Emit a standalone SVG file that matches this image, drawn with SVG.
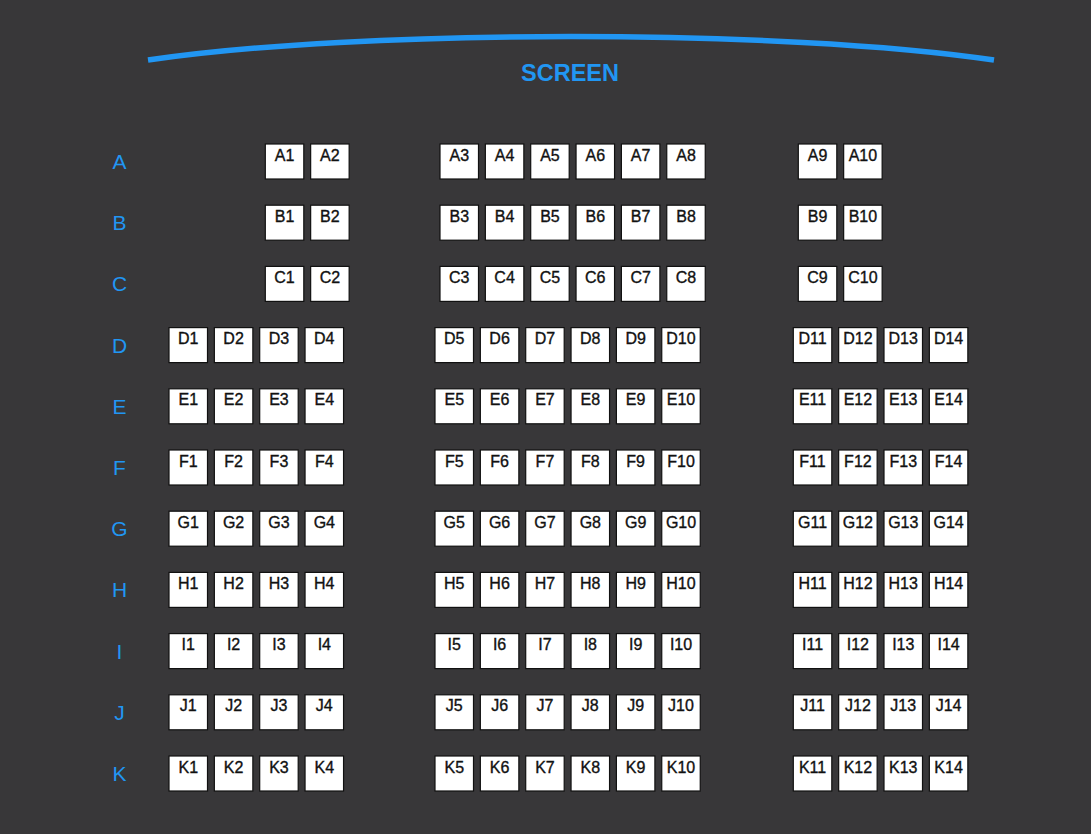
<svg xmlns="http://www.w3.org/2000/svg" width="1091" height="834" viewBox="0 0 1091 834">
<style>
.s{fill:#ffffff;stroke:#111111;stroke-width:1.2}
.t{font-family:"Liberation Sans",Arial,sans-serif;font-size:16px;fill:#111111;stroke:#111111;stroke-width:0.35;text-anchor:middle}
.r{font-family:"Liberation Sans",Arial,sans-serif;font-size:21px;fill:#2196f3;text-anchor:middle}
</style>
<rect x="0" y="0" width="1091" height="834" fill="#383739"/>
<g id="screen">
<path d="M148 60 C358 28.7 784 28.7 994 60" fill="none" stroke="#2196f3" stroke-width="5.5"/>
<text x="570" y="80.5" font-family="Liberation Sans,Arial,sans-serif" font-size="24" font-weight="bold" fill="#2196f3" text-anchor="middle" textLength="98" lengthAdjust="spacingAndGlyphs">SCREEN</text>
</g>
<g id="connectors"></g>
<g id="row-labels">
<text class="r" x="119.5" y="169">A</text>
<text class="r" x="119.5" y="230.2">B</text>
<text class="r" x="119.5" y="291.4">C</text>
<text class="r" x="119.5" y="352.6">D</text>
<text class="r" x="119.5" y="413.8">E</text>
<text class="r" x="119.5" y="475">F</text>
<text class="r" x="119.5" y="536.2">G</text>
<text class="r" x="119.5" y="597.4">H</text>
<text class="r" x="119.5" y="658.6">I</text>
<text class="r" x="119.5" y="719.8">J</text>
<text class="r" x="119.5" y="781">K</text>
</g>
<g id="row-A" transform="translate(0,144)">
<g id="A1"><rect class="s" x="265.3" y="0" width="38.5" height="35"/><text class="t" x="284.55" y="16.7">A1</text></g>
<g id="A2"><rect class="s" x="310.65" y="0" width="38.5" height="35"/><text class="t" x="329.9" y="16.7">A2</text></g>
<g id="A3"><rect class="s" x="440" y="0" width="38.5" height="35"/><text class="t" x="459.25" y="16.7">A3</text></g>
<g id="A4"><rect class="s" x="485.35" y="0" width="38.5" height="35"/><text class="t" x="504.6" y="16.7">A4</text></g>
<g id="A5"><rect class="s" x="530.7" y="0" width="38.5" height="35"/><text class="t" x="549.95" y="16.7">A5</text></g>
<g id="A6"><rect class="s" x="576.05" y="0" width="38.5" height="35"/><text class="t" x="595.3" y="16.7">A6</text></g>
<g id="A7"><rect class="s" x="621.4" y="0" width="38.5" height="35"/><text class="t" x="640.65" y="16.7">A7</text></g>
<g id="A8"><rect class="s" x="666.75" y="0" width="38.5" height="35"/><text class="t" x="686" y="16.7">A8</text></g>
<g id="A9"><rect class="s" x="798.3" y="0" width="38.5" height="35"/><text class="t" x="817.55" y="16.7">A9</text></g>
<g id="A10"><rect class="s" x="843.65" y="0" width="38.5" height="35"/><text class="t" x="862.9" y="16.7">A10</text></g>
</g>
<g id="row-B" transform="translate(0,205.2)">
<g id="B1"><rect class="s" x="265.3" y="0" width="38.5" height="35"/><text class="t" x="284.55" y="16.7">B1</text></g>
<g id="B2"><rect class="s" x="310.65" y="0" width="38.5" height="35"/><text class="t" x="329.9" y="16.7">B2</text></g>
<g id="B3"><rect class="s" x="440" y="0" width="38.5" height="35"/><text class="t" x="459.25" y="16.7">B3</text></g>
<g id="B4"><rect class="s" x="485.35" y="0" width="38.5" height="35"/><text class="t" x="504.6" y="16.7">B4</text></g>
<g id="B5"><rect class="s" x="530.7" y="0" width="38.5" height="35"/><text class="t" x="549.95" y="16.7">B5</text></g>
<g id="B6"><rect class="s" x="576.05" y="0" width="38.5" height="35"/><text class="t" x="595.3" y="16.7">B6</text></g>
<g id="B7"><rect class="s" x="621.4" y="0" width="38.5" height="35"/><text class="t" x="640.65" y="16.7">B7</text></g>
<g id="B8"><rect class="s" x="666.75" y="0" width="38.5" height="35"/><text class="t" x="686" y="16.7">B8</text></g>
<g id="B9"><rect class="s" x="798.3" y="0" width="38.5" height="35"/><text class="t" x="817.55" y="16.7">B9</text></g>
<g id="B10"><rect class="s" x="843.65" y="0" width="38.5" height="35"/><text class="t" x="862.9" y="16.7">B10</text></g>
</g>
<g id="row-C" transform="translate(0,266.4)">
<g id="C1"><rect class="s" x="265.3" y="0" width="38.5" height="35"/><text class="t" x="284.55" y="16.7">C1</text></g>
<g id="C2"><rect class="s" x="310.65" y="0" width="38.5" height="35"/><text class="t" x="329.9" y="16.7">C2</text></g>
<g id="C3"><rect class="s" x="440" y="0" width="38.5" height="35"/><text class="t" x="459.25" y="16.7">C3</text></g>
<g id="C4"><rect class="s" x="485.35" y="0" width="38.5" height="35"/><text class="t" x="504.6" y="16.7">C4</text></g>
<g id="C5"><rect class="s" x="530.7" y="0" width="38.5" height="35"/><text class="t" x="549.95" y="16.7">C5</text></g>
<g id="C6"><rect class="s" x="576.05" y="0" width="38.5" height="35"/><text class="t" x="595.3" y="16.7">C6</text></g>
<g id="C7"><rect class="s" x="621.4" y="0" width="38.5" height="35"/><text class="t" x="640.65" y="16.7">C7</text></g>
<g id="C8"><rect class="s" x="666.75" y="0" width="38.5" height="35"/><text class="t" x="686" y="16.7">C8</text></g>
<g id="C9"><rect class="s" x="798.3" y="0" width="38.5" height="35"/><text class="t" x="817.55" y="16.7">C9</text></g>
<g id="C10"><rect class="s" x="843.65" y="0" width="38.5" height="35"/><text class="t" x="862.9" y="16.7">C10</text></g>
</g>
<g id="row-D" transform="translate(0,327.6)">
<g id="D1"><rect class="s" x="169" y="0" width="38.5" height="35"/><text class="t" x="188.25" y="16.7">D1</text></g>
<g id="D2"><rect class="s" x="214.35" y="0" width="38.5" height="35"/><text class="t" x="233.6" y="16.7">D2</text></g>
<g id="D3"><rect class="s" x="259.7" y="0" width="38.5" height="35"/><text class="t" x="278.95" y="16.7">D3</text></g>
<g id="D4"><rect class="s" x="305.05" y="0" width="38.5" height="35"/><text class="t" x="324.3" y="16.7">D4</text></g>
<g id="D5"><rect class="s" x="435" y="0" width="38.5" height="35"/><text class="t" x="454.25" y="16.7">D5</text></g>
<g id="D6"><rect class="s" x="480.35" y="0" width="38.5" height="35"/><text class="t" x="499.6" y="16.7">D6</text></g>
<g id="D7"><rect class="s" x="525.7" y="0" width="38.5" height="35"/><text class="t" x="544.95" y="16.7">D7</text></g>
<g id="D8"><rect class="s" x="571.05" y="0" width="38.5" height="35"/><text class="t" x="590.3" y="16.7">D8</text></g>
<g id="D9"><rect class="s" x="616.4" y="0" width="38.5" height="35"/><text class="t" x="635.65" y="16.7">D9</text></g>
<g id="D10"><rect class="s" x="661.75" y="0" width="38.5" height="35"/><text class="t" x="681" y="16.7">D10</text></g>
<g id="D11"><rect class="s" x="793.3" y="0" width="38.5" height="35"/><text class="t" x="812.55" y="16.7">D11</text></g>
<g id="D12"><rect class="s" x="838.65" y="0" width="38.5" height="35"/><text class="t" x="857.9" y="16.7">D12</text></g>
<g id="D13"><rect class="s" x="884" y="0" width="38.5" height="35"/><text class="t" x="903.25" y="16.7">D13</text></g>
<g id="D14"><rect class="s" x="929.35" y="0" width="38.5" height="35"/><text class="t" x="948.6" y="16.7">D14</text></g>
</g>
<g id="row-E" transform="translate(0,388.8)">
<g id="E1"><rect class="s" x="169" y="0" width="38.5" height="35"/><text class="t" x="188.25" y="16.7">E1</text></g>
<g id="E2"><rect class="s" x="214.35" y="0" width="38.5" height="35"/><text class="t" x="233.6" y="16.7">E2</text></g>
<g id="E3"><rect class="s" x="259.7" y="0" width="38.5" height="35"/><text class="t" x="278.95" y="16.7">E3</text></g>
<g id="E4"><rect class="s" x="305.05" y="0" width="38.5" height="35"/><text class="t" x="324.3" y="16.7">E4</text></g>
<g id="E5"><rect class="s" x="435" y="0" width="38.5" height="35"/><text class="t" x="454.25" y="16.7">E5</text></g>
<g id="E6"><rect class="s" x="480.35" y="0" width="38.5" height="35"/><text class="t" x="499.6" y="16.7">E6</text></g>
<g id="E7"><rect class="s" x="525.7" y="0" width="38.5" height="35"/><text class="t" x="544.95" y="16.7">E7</text></g>
<g id="E8"><rect class="s" x="571.05" y="0" width="38.5" height="35"/><text class="t" x="590.3" y="16.7">E8</text></g>
<g id="E9"><rect class="s" x="616.4" y="0" width="38.5" height="35"/><text class="t" x="635.65" y="16.7">E9</text></g>
<g id="E10"><rect class="s" x="661.75" y="0" width="38.5" height="35"/><text class="t" x="681" y="16.7">E10</text></g>
<g id="E11"><rect class="s" x="793.3" y="0" width="38.5" height="35"/><text class="t" x="812.55" y="16.7">E11</text></g>
<g id="E12"><rect class="s" x="838.65" y="0" width="38.5" height="35"/><text class="t" x="857.9" y="16.7">E12</text></g>
<g id="E13"><rect class="s" x="884" y="0" width="38.5" height="35"/><text class="t" x="903.25" y="16.7">E13</text></g>
<g id="E14"><rect class="s" x="929.35" y="0" width="38.5" height="35"/><text class="t" x="948.6" y="16.7">E14</text></g>
</g>
<g id="row-F" transform="translate(0,450)">
<g id="F1"><rect class="s" x="169" y="0" width="38.5" height="35"/><text class="t" x="188.25" y="16.7">F1</text></g>
<g id="F2"><rect class="s" x="214.35" y="0" width="38.5" height="35"/><text class="t" x="233.6" y="16.7">F2</text></g>
<g id="F3"><rect class="s" x="259.7" y="0" width="38.5" height="35"/><text class="t" x="278.95" y="16.7">F3</text></g>
<g id="F4"><rect class="s" x="305.05" y="0" width="38.5" height="35"/><text class="t" x="324.3" y="16.7">F4</text></g>
<g id="F5"><rect class="s" x="435" y="0" width="38.5" height="35"/><text class="t" x="454.25" y="16.7">F5</text></g>
<g id="F6"><rect class="s" x="480.35" y="0" width="38.5" height="35"/><text class="t" x="499.6" y="16.7">F6</text></g>
<g id="F7"><rect class="s" x="525.7" y="0" width="38.5" height="35"/><text class="t" x="544.95" y="16.7">F7</text></g>
<g id="F8"><rect class="s" x="571.05" y="0" width="38.5" height="35"/><text class="t" x="590.3" y="16.7">F8</text></g>
<g id="F9"><rect class="s" x="616.4" y="0" width="38.5" height="35"/><text class="t" x="635.65" y="16.7">F9</text></g>
<g id="F10"><rect class="s" x="661.75" y="0" width="38.5" height="35"/><text class="t" x="681" y="16.7">F10</text></g>
<g id="F11"><rect class="s" x="793.3" y="0" width="38.5" height="35"/><text class="t" x="812.55" y="16.7">F11</text></g>
<g id="F12"><rect class="s" x="838.65" y="0" width="38.5" height="35"/><text class="t" x="857.9" y="16.7">F12</text></g>
<g id="F13"><rect class="s" x="884" y="0" width="38.5" height="35"/><text class="t" x="903.25" y="16.7">F13</text></g>
<g id="F14"><rect class="s" x="929.35" y="0" width="38.5" height="35"/><text class="t" x="948.6" y="16.7">F14</text></g>
</g>
<g id="row-G" transform="translate(0,511.2)">
<g id="G1"><rect class="s" x="169" y="0" width="38.5" height="35"/><text class="t" x="188.25" y="16.7">G1</text></g>
<g id="G2"><rect class="s" x="214.35" y="0" width="38.5" height="35"/><text class="t" x="233.6" y="16.7">G2</text></g>
<g id="G3"><rect class="s" x="259.7" y="0" width="38.5" height="35"/><text class="t" x="278.95" y="16.7">G3</text></g>
<g id="G4"><rect class="s" x="305.05" y="0" width="38.5" height="35"/><text class="t" x="324.3" y="16.7">G4</text></g>
<g id="G5"><rect class="s" x="435" y="0" width="38.5" height="35"/><text class="t" x="454.25" y="16.7">G5</text></g>
<g id="G6"><rect class="s" x="480.35" y="0" width="38.5" height="35"/><text class="t" x="499.6" y="16.7">G6</text></g>
<g id="G7"><rect class="s" x="525.7" y="0" width="38.5" height="35"/><text class="t" x="544.95" y="16.7">G7</text></g>
<g id="G8"><rect class="s" x="571.05" y="0" width="38.5" height="35"/><text class="t" x="590.3" y="16.7">G8</text></g>
<g id="G9"><rect class="s" x="616.4" y="0" width="38.5" height="35"/><text class="t" x="635.65" y="16.7">G9</text></g>
<g id="G10"><rect class="s" x="661.75" y="0" width="38.5" height="35"/><text class="t" x="681" y="16.7">G10</text></g>
<g id="G11"><rect class="s" x="793.3" y="0" width="38.5" height="35"/><text class="t" x="812.55" y="16.7">G11</text></g>
<g id="G12"><rect class="s" x="838.65" y="0" width="38.5" height="35"/><text class="t" x="857.9" y="16.7">G12</text></g>
<g id="G13"><rect class="s" x="884" y="0" width="38.5" height="35"/><text class="t" x="903.25" y="16.7">G13</text></g>
<g id="G14"><rect class="s" x="929.35" y="0" width="38.5" height="35"/><text class="t" x="948.6" y="16.7">G14</text></g>
</g>
<g id="row-H" transform="translate(0,572.4)">
<g id="H1"><rect class="s" x="169" y="0" width="38.5" height="35"/><text class="t" x="188.25" y="16.7">H1</text></g>
<g id="H2"><rect class="s" x="214.35" y="0" width="38.5" height="35"/><text class="t" x="233.6" y="16.7">H2</text></g>
<g id="H3"><rect class="s" x="259.7" y="0" width="38.5" height="35"/><text class="t" x="278.95" y="16.7">H3</text></g>
<g id="H4"><rect class="s" x="305.05" y="0" width="38.5" height="35"/><text class="t" x="324.3" y="16.7">H4</text></g>
<g id="H5"><rect class="s" x="435" y="0" width="38.5" height="35"/><text class="t" x="454.25" y="16.7">H5</text></g>
<g id="H6"><rect class="s" x="480.35" y="0" width="38.5" height="35"/><text class="t" x="499.6" y="16.7">H6</text></g>
<g id="H7"><rect class="s" x="525.7" y="0" width="38.5" height="35"/><text class="t" x="544.95" y="16.7">H7</text></g>
<g id="H8"><rect class="s" x="571.05" y="0" width="38.5" height="35"/><text class="t" x="590.3" y="16.7">H8</text></g>
<g id="H9"><rect class="s" x="616.4" y="0" width="38.5" height="35"/><text class="t" x="635.65" y="16.7">H9</text></g>
<g id="H10"><rect class="s" x="661.75" y="0" width="38.5" height="35"/><text class="t" x="681" y="16.7">H10</text></g>
<g id="H11"><rect class="s" x="793.3" y="0" width="38.5" height="35"/><text class="t" x="812.55" y="16.7">H11</text></g>
<g id="H12"><rect class="s" x="838.65" y="0" width="38.5" height="35"/><text class="t" x="857.9" y="16.7">H12</text></g>
<g id="H13"><rect class="s" x="884" y="0" width="38.5" height="35"/><text class="t" x="903.25" y="16.7">H13</text></g>
<g id="H14"><rect class="s" x="929.35" y="0" width="38.5" height="35"/><text class="t" x="948.6" y="16.7">H14</text></g>
</g>
<g id="row-I" transform="translate(0,633.6)">
<g id="I1"><rect class="s" x="169" y="0" width="38.5" height="35"/><text class="t" x="188.25" y="16.7">I1</text></g>
<g id="I2"><rect class="s" x="214.35" y="0" width="38.5" height="35"/><text class="t" x="233.6" y="16.7">I2</text></g>
<g id="I3"><rect class="s" x="259.7" y="0" width="38.5" height="35"/><text class="t" x="278.95" y="16.7">I3</text></g>
<g id="I4"><rect class="s" x="305.05" y="0" width="38.5" height="35"/><text class="t" x="324.3" y="16.7">I4</text></g>
<g id="I5"><rect class="s" x="435" y="0" width="38.5" height="35"/><text class="t" x="454.25" y="16.7">I5</text></g>
<g id="I6"><rect class="s" x="480.35" y="0" width="38.5" height="35"/><text class="t" x="499.6" y="16.7">I6</text></g>
<g id="I7"><rect class="s" x="525.7" y="0" width="38.5" height="35"/><text class="t" x="544.95" y="16.7">I7</text></g>
<g id="I8"><rect class="s" x="571.05" y="0" width="38.5" height="35"/><text class="t" x="590.3" y="16.7">I8</text></g>
<g id="I9"><rect class="s" x="616.4" y="0" width="38.5" height="35"/><text class="t" x="635.65" y="16.7">I9</text></g>
<g id="I10"><rect class="s" x="661.75" y="0" width="38.5" height="35"/><text class="t" x="681" y="16.7">I10</text></g>
<g id="I11"><rect class="s" x="793.3" y="0" width="38.5" height="35"/><text class="t" x="812.55" y="16.7">I11</text></g>
<g id="I12"><rect class="s" x="838.65" y="0" width="38.5" height="35"/><text class="t" x="857.9" y="16.7">I12</text></g>
<g id="I13"><rect class="s" x="884" y="0" width="38.5" height="35"/><text class="t" x="903.25" y="16.7">I13</text></g>
<g id="I14"><rect class="s" x="929.35" y="0" width="38.5" height="35"/><text class="t" x="948.6" y="16.7">I14</text></g>
</g>
<g id="row-J" transform="translate(0,694.8)">
<g id="J1"><rect class="s" x="169" y="0" width="38.5" height="35"/><text class="t" x="188.25" y="16.7">J1</text></g>
<g id="J2"><rect class="s" x="214.35" y="0" width="38.5" height="35"/><text class="t" x="233.6" y="16.7">J2</text></g>
<g id="J3"><rect class="s" x="259.7" y="0" width="38.5" height="35"/><text class="t" x="278.95" y="16.7">J3</text></g>
<g id="J4"><rect class="s" x="305.05" y="0" width="38.5" height="35"/><text class="t" x="324.3" y="16.7">J4</text></g>
<g id="J5"><rect class="s" x="435" y="0" width="38.5" height="35"/><text class="t" x="454.25" y="16.7">J5</text></g>
<g id="J6"><rect class="s" x="480.35" y="0" width="38.5" height="35"/><text class="t" x="499.6" y="16.7">J6</text></g>
<g id="J7"><rect class="s" x="525.7" y="0" width="38.5" height="35"/><text class="t" x="544.95" y="16.7">J7</text></g>
<g id="J8"><rect class="s" x="571.05" y="0" width="38.5" height="35"/><text class="t" x="590.3" y="16.7">J8</text></g>
<g id="J9"><rect class="s" x="616.4" y="0" width="38.5" height="35"/><text class="t" x="635.65" y="16.7">J9</text></g>
<g id="J10"><rect class="s" x="661.75" y="0" width="38.5" height="35"/><text class="t" x="681" y="16.7">J10</text></g>
<g id="J11"><rect class="s" x="793.3" y="0" width="38.5" height="35"/><text class="t" x="812.55" y="16.7">J11</text></g>
<g id="J12"><rect class="s" x="838.65" y="0" width="38.5" height="35"/><text class="t" x="857.9" y="16.7">J12</text></g>
<g id="J13"><rect class="s" x="884" y="0" width="38.5" height="35"/><text class="t" x="903.25" y="16.7">J13</text></g>
<g id="J14"><rect class="s" x="929.35" y="0" width="38.5" height="35"/><text class="t" x="948.6" y="16.7">J14</text></g>
</g>
<g id="row-K" transform="translate(0,756)">
<g id="K1"><rect class="s" x="169" y="0" width="38.5" height="35"/><text class="t" x="188.25" y="16.7">K1</text></g>
<g id="K2"><rect class="s" x="214.35" y="0" width="38.5" height="35"/><text class="t" x="233.6" y="16.7">K2</text></g>
<g id="K3"><rect class="s" x="259.7" y="0" width="38.5" height="35"/><text class="t" x="278.95" y="16.7">K3</text></g>
<g id="K4"><rect class="s" x="305.05" y="0" width="38.5" height="35"/><text class="t" x="324.3" y="16.7">K4</text></g>
<g id="K5"><rect class="s" x="435" y="0" width="38.5" height="35"/><text class="t" x="454.25" y="16.7">K5</text></g>
<g id="K6"><rect class="s" x="480.35" y="0" width="38.5" height="35"/><text class="t" x="499.6" y="16.7">K6</text></g>
<g id="K7"><rect class="s" x="525.7" y="0" width="38.5" height="35"/><text class="t" x="544.95" y="16.7">K7</text></g>
<g id="K8"><rect class="s" x="571.05" y="0" width="38.5" height="35"/><text class="t" x="590.3" y="16.7">K8</text></g>
<g id="K9"><rect class="s" x="616.4" y="0" width="38.5" height="35"/><text class="t" x="635.65" y="16.7">K9</text></g>
<g id="K10"><rect class="s" x="661.75" y="0" width="38.5" height="35"/><text class="t" x="681" y="16.7">K10</text></g>
<g id="K11"><rect class="s" x="793.3" y="0" width="38.5" height="35"/><text class="t" x="812.55" y="16.7">K11</text></g>
<g id="K12"><rect class="s" x="838.65" y="0" width="38.5" height="35"/><text class="t" x="857.9" y="16.7">K12</text></g>
<g id="K13"><rect class="s" x="884" y="0" width="38.5" height="35"/><text class="t" x="903.25" y="16.7">K13</text></g>
<g id="K14"><rect class="s" x="929.35" y="0" width="38.5" height="35"/><text class="t" x="948.6" y="16.7">K14</text></g>
</g>
</svg>
